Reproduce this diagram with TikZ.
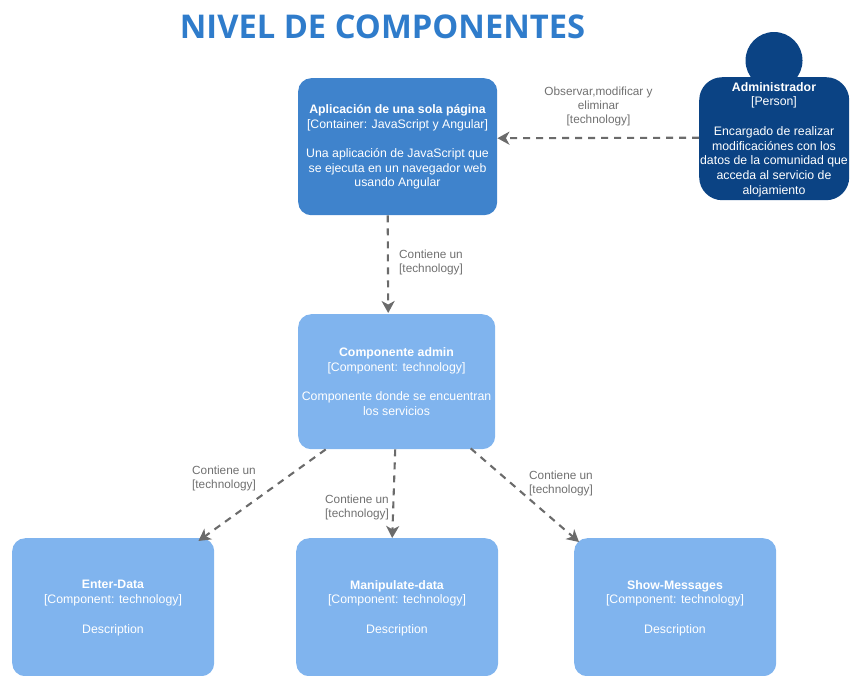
\documentclass[tikz,border=0pt]{standalone}
\usepackage{fontspec}
\setmainfont{Liberation Sans}
\newfontfamily\titlefont{Open Sans}
\usetikzlibrary{arrows.meta,calc}
\definecolor{mainblue}{HTML}{3F83CC}
\definecolor{compblue}{HTML}{80B4EE}
\definecolor{navyblue}{HTML}{0B4384}
\definecolor{edgegray}{HTML}{6B6B6B}
\definecolor{labelgray}{HTML}{707070}
\definecolor{titleblue}{HTML}{2F7CCB}
\tikzset{
  every node/.style={font=\fontsize{12.3}{14.7}\selectfont},
  boxbase/.style={rectangle,rounded corners=13pt,inner sep=0pt,text=white,align=center,anchor=north west},
  mainbox/.style={boxbase,fill=mainblue},
  compbox/.style={boxbase,fill=compblue,text=white},
  personbody/.style={boxbase,fill=navyblue,rounded corners=23pt},
  link/.style={draw=edgegray,line width=2.1pt,dash pattern=on 7pt off 6pt,-{Stealth[length=12pt,width=13pt,inset=3.5pt]}},
  edgelabel/.style={text=labelgray,align=center,font=\fontsize{11.8}{14}\selectfont},
}
\begin{document}
\begin{tikzpicture}[x=1pt,y=-1pt]
\useasboundingbox (0,0) rectangle (850,675);
\node[text=titleblue,font=\titlefont\bfseries\fontsize{32.7}{36}\selectfont] (title) at (382.5,27) {NIVEL DE COMPONENTES};

\node[mainbox,minimum width=199pt,minimum height=137pt] (main) at (298,78) {};
\node[compbox,minimum width=197pt,minimum height=135pt] (admin) at (298,314) {};
\node[compbox,minimum width=202pt,minimum height=138pt] (enter) at (12,538) {};
\node[compbox,minimum width=202pt,minimum height=138pt] (manip) at (296,538) {};
\node[compbox,minimum width=202pt,minimum height=138pt] (show) at (574,538) {};
\node[fill=navyblue,circle,minimum size=57pt,inner sep=0pt] (head) at (774,60.5) {};
\node[personbody,minimum width=150pt,minimum height=123pt] (admper) at (699,77) {};

\node[text=white,align=center] (maintext) at (397.5,147) {\textbf{Aplicación de una sola página}\\{[Container: JavaScript y Angular]}\\[14.7pt]Una aplicación de JavaScript que\\se ejecuta en un navegador web\\usando Angular};
\node[text=white,align=center] (admintext) at (396.5,381.5) {\textbf{Componente admin}\\{[Component: technology]}\\[14.7pt]Componente donde se encuentran\\los servicios};
\node[text=white,align=center] (entertext) at (113,608) {\textbf{Enter-Data}\\{[Component: technology]}\\[14.7pt]Description};
\node[text=white,align=center] (maniptext) at (397,608) {\textbf{Manipulate-data}\\{[Component: technology]}\\[14.7pt]Description};
\node[text=white,align=center] (showtext) at (675,608) {\textbf{Show-Messages}\\{[Component: technology]}\\[14.7pt]Description};
\node[text=white,align=center] (pertext) at (774,139.5) {\textbf{Administrador}\\{[Person]}\\[14.7pt]Encargado de realizar\\modificaciónes con los\\datos de la comunidad que\\acceda al servicio de\\alojamiento};

\draw[link] ($(admper.west)+(0,-1)$) -- ($(main.east)+(0,-8.5)$);
\draw[link] ($(main.south)+(-10,0)$) -- ($(admin.north)+(-8.5,-1)$);
\draw[link] ($(admin.south)+(-71,0)$) -- ($(enter.north east)+(-16,3)$);
\draw[link] ($(admin.south)+(-1.5,0)$) -- ($(manip.north)+(-5,0)$);
\draw[link] ($(admin.south)+(74,-1)$) -- ($(show.north west)+(5,4)$);

\node[edgelabel] (l1) at (598.5,106.5) {Observar,modificar y\\eliminar\\{[technology]}};
\node[edgelabel] (l2) at (431,262) {Contiene un\\{[technology]}};
\node[edgelabel] (l3) at (224,478) {Contiene un\\{[technology]}};
\node[edgelabel] (l4) at (357,507) {Contiene un\\{[technology]}};
\node[edgelabel] (l5) at (561,483) {Contiene un\\{[technology]}};
\end{tikzpicture}
\end{document}
